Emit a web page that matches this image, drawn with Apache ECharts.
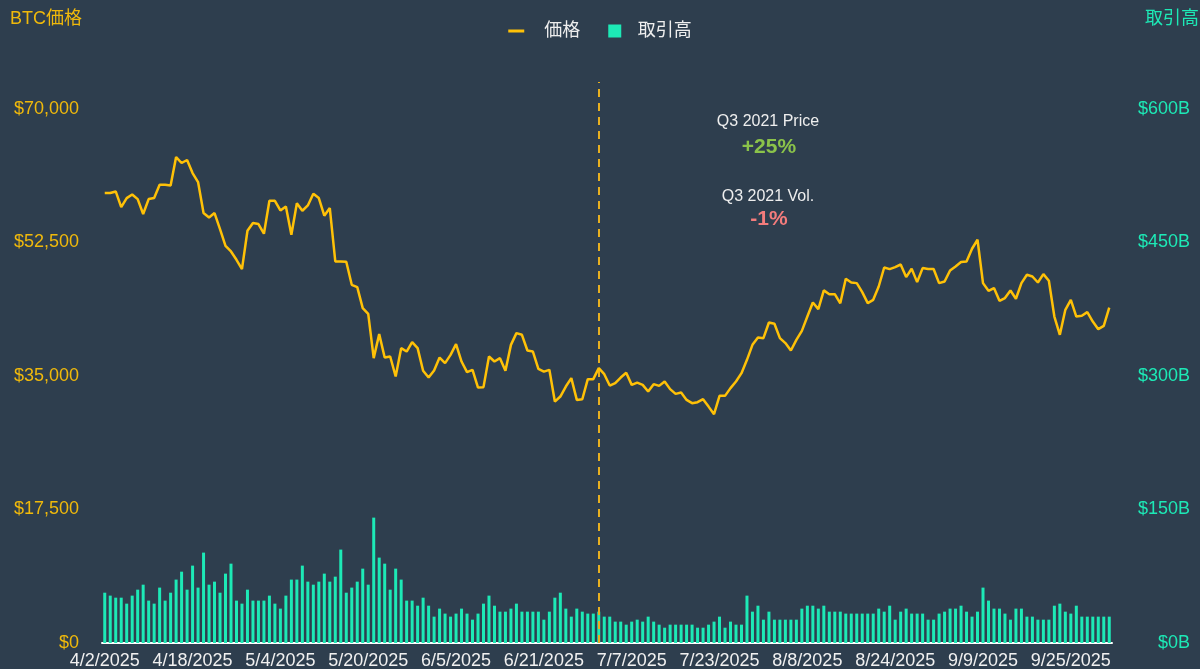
<!DOCTYPE html>
<html>
<head>
<meta charset="utf-8" />
<title>BTC価格と取引高</title>
<style>
  html, body { margin: 0; padding: 0; background: #2e3e4e; }
  #chart { width: 1200px; height: 669px; }
</style>
</head>
<body>
<div id="chart"></div>
<script src="https://cdn.jsdelivr.net/npm/echarts@6.0.0/dist/echarts.min.js"></script>
<script>
// 日付 (4/2/2025 から毎日)
var startDate = [2025, 3, 2];
var dayCount = 184;

// BTC価格 (USD)
var priceData = [
  58950, 58950, 59160, 57110, 58290, 58770, 58160, 56200, 58160, 58290,
  60040, 60040, 59950, 63670, 62890, 63280, 61570, 60390, 56330, 55750,
  56330, 54230, 52040, 51300, 50210, 48990, 54010, 55020, 54890, 53620,
  57940, 57940, 56670, 57200, 53480, 57620, 56630, 57330, 58860, 58300,
  55980, 56990, 49990, 49990, 49950, 46930, 46630, 43880, 43130, 37320,
  40470, 37400, 37540, 34910, 38630, 38190, 39420, 38630, 35660, 34780,
  35700, 37400, 36670, 37750, 39150, 36880, 35490, 35790, 33470, 33520,
  37540, 36880, 37320, 35660, 39060, 40600, 40380, 38320, 38190, 35920,
  35560, 35790, 31630, 32290, 33600, 34700, 31850, 31940, 34570, 34570,
  36010, 35220, 33730, 34040, 34780, 35400, 33820, 34120, 33820, 32940,
  33910, 33690, 34260, 33260, 32640, 32810, 31850, 31420, 31550, 31940,
  30970, 29980, 32380, 32380, 33390, 34260, 35350, 37100, 39060, 40030,
  39940, 41990, 41820, 39940, 39290, 38320, 39720, 40900, 42770, 44610,
  43740, 46200, 45700, 45700, 44500, 47720, 47230, 47150, 45970, 44530,
  44960, 46710, 49200, 48990, 49250, 49590, 47940, 49030, 47280, 49120,
  48990, 48990, 47150, 47360, 48810, 49330, 49910, 49990, 51650, 52830,
  47150, 46140, 46500, 44830, 45190, 46190, 45100, 47150, 48240, 48020,
  47230, 48330, 47460, 42770, 40380, 43650, 44960, 42770, 42870, 43350,
  42120, 41120, 41550, 43950
];

// 取引高 (十億ドル)
var volumeData = [
  56.5, 53.2, 50.9, 50.9, 44.2, 53.2, 59.9, 65.5, 47.6, 44.2,
  62.2, 47.6, 56.5, 71.2, 80.1, 59.9, 86.9, 62.2, 101.5, 65.5,
  68.9, 56.5, 77.9, 89.1, 47.6, 44.2, 59.9, 47.6, 47.6, 47.6,
  53.2, 44.2, 38.6, 53.2, 71.2, 71.2, 86.9, 68.9, 65.5, 68.9,
  77.9, 68.9, 74.5, 104.9, 56.5, 62.2, 68.9, 83.5, 65.5, 140.8,
  95.9, 89.1, 59.9, 83.5, 71.2, 47.6, 47.6, 41.9, 50.9, 41.9,
  29.6, 38.6, 33, 29.6, 33, 38.6, 33, 26.2, 33, 44.2,
  53.2, 41.9, 35.2, 35.2, 38.6, 44.2, 35.2, 35.2, 35.2, 35.2,
  26.2, 35.2, 50.9, 56.5, 38.6, 29.6, 38.6, 35.2, 33, 33,
  35.2, 29.6, 29.6, 24, 24, 20.6, 24, 26.2, 24, 29.6,
  24, 20.6, 17.2, 20.6, 20.6, 20.6, 20.6, 20.6, 17.2, 17.2,
  20.6, 24, 29.6, 17.2, 24, 20.6, 20.6, 53.2, 35.2, 41.9,
  26.2, 35.2, 26.2, 26.2, 26.2, 26.2, 26.2, 38.6, 41.9, 41.9,
  38.6, 41.9, 35.2, 35.2, 35.2, 33, 33, 33, 33, 33,
  33, 38.6, 35.2, 41.9, 26.2, 35.2, 38.6, 33, 33, 33,
  26.2, 26.2, 33, 35.2, 38.6, 38.6, 41.9, 35.2, 29.6, 35.2,
  62.2, 47.6, 38.6, 38.6, 33, 26.2, 38.6, 38.6, 29.6, 29.6,
  26.2, 26.2, 26.2, 41.9, 44.2, 35.2, 33, 41.9, 29.6, 29.6,
  29.6, 29.6, 29.6, 29.6
];

// Q3開始の線
var q3Start = '7/1/2025';

var dates = [];
for (var i = 0; i < dayCount; i++) {
  var d = new Date(Date.UTC(startDate[0], startDate[1], startDate[2] + i));
  dates.push((d.getUTCMonth() + 1) + '/' + d.getUTCDate() + '/' + d.getUTCFullYear());
}

var FONT = '"Liberation Sans", Arial, "Noto Sans CJK JP", sans-serif';
var GOLD = '#f0b90b';
var TEAL = '#1de9b6';

var chart = echarts.init(document.getElementById('chart'));

chart.setOption({
  backgroundColor: '#2e3e4e',
  textStyle: { fontFamily: FONT },
  animation: false,
  legend: {
    top: 17,
    left: 'center',
    itemWidth: 16,
    itemHeight: 13,
    itemGap: 28,
    textStyle: { color: '#eeeeee', fontSize: 18, fontFamily: FONT },
    // アイコンと文字の間隔を空ける
    formatter: function (name) {
      return name === '価格' ? '   ' + name : '  ' + name;
    },
    data: [
      { name: '価格', icon: 'path://M0,0h16v3h-16z' },
      { name: '取引高', icon: 'path://M0,0h13v13h-13z' }
    ]
  },
  grid: { left: 102, right: 88, top: 82, bottom: 26, outerBoundsMode: 'none' },
  xAxis: {
    type: 'category',
    data: dates,
    boundaryGap: true,
    axisLine: { lineStyle: { color: '#ffffff', width: 2 } },
    axisTick: { show: false },
    axisLabel: { interval: 15, color: '#f0f0f0', fontSize: 18, margin: 9, fontFamily: FONT }
  },
  yAxis: [
    {
      type: 'value',
      name: 'BTC価格',
      nameLocation: 'end',
      nameGap: 54,
      nameTextStyle: { color: GOLD, fontSize: 18, align: 'right', padding: [0, 20, 0, 0], fontFamily: FONT },
      min: 0,
      max: 73500,
      interval: 17500,
      splitLine: { show: false },
      axisLine: { show: false },
      axisTick: { show: false },
      axisLabel: {
        color: GOLD,
        fontSize: 18,
        margin: 23,
        fontFamily: FONT,
        formatter: function (v) {
          if (v > 70000) return '';
          return '$' + v.toLocaleString('en-US');
        }
      }
    },
    {
      type: 'value',
      name: '取引高',
      position: 'right',
      nameLocation: 'end',
      nameGap: 54,
      nameTextStyle: { color: TEAL, fontSize: 18, align: 'left', padding: [0, 0, 0, 33], fontFamily: FONT },
      min: 0,
      max: 630,
      interval: 150,
      splitLine: { show: false },
      axisLine: { show: false },
      axisTick: { show: false },
      axisLabel: {
        color: TEAL,
        fontSize: 18,
        margin: 78,
        align: 'right',
        fontFamily: FONT,
        formatter: function (v) {
          if (v > 600) return '';
          return '$' + v + 'B';
        }
      }
    }
  ],
  series: [
    {
      name: '取引高',
      type: 'bar',
      yAxisIndex: 1,
      data: volumeData,
      barWidth: 3,
      itemStyle: { color: TEAL }
    },
    {
      name: '価格',
      type: 'line',
      yAxisIndex: 0,
      data: priceData,
      symbol: 'none',
      lineStyle: { color: '#ffc107', width: 2.5 },
      itemStyle: { color: '#ffc107' },
      z: 5,
      markLine: {
        silent: true,
        symbol: 'none',
        label: { show: false },
        lineStyle: { color: '#e8b020', width: 2, type: [8, 6] },
        data: [{ xAxis: q3Start }]
      }
    }
  ],
  graphic: [
    { type: 'text', x: 768, y: 122, style: { text: 'Q3 2021 Price', fill: '#eeeeee', font: '16px ' + FONT, textAlign: 'center', textVerticalAlign: 'middle' } },
    { type: 'text', x: 769, y: 147, style: { text: '+25%', fill: '#8bc34a', font: 'bold 21px ' + FONT, textAlign: 'center', textVerticalAlign: 'middle' } },
    { type: 'text', x: 768, y: 197, style: { text: 'Q3 2021 Vol.', fill: '#eeeeee', font: '16px ' + FONT, textAlign: 'center', textVerticalAlign: 'middle' } },
    { type: 'text', x: 769, y: 219, style: { text: '-1%', fill: '#f47c7c', font: 'bold 21px ' + FONT, textAlign: 'center', textVerticalAlign: 'middle' } }
  ]
});

window.onresize = function () {
  chart.resize();
};
</script>
</body>
</html>
